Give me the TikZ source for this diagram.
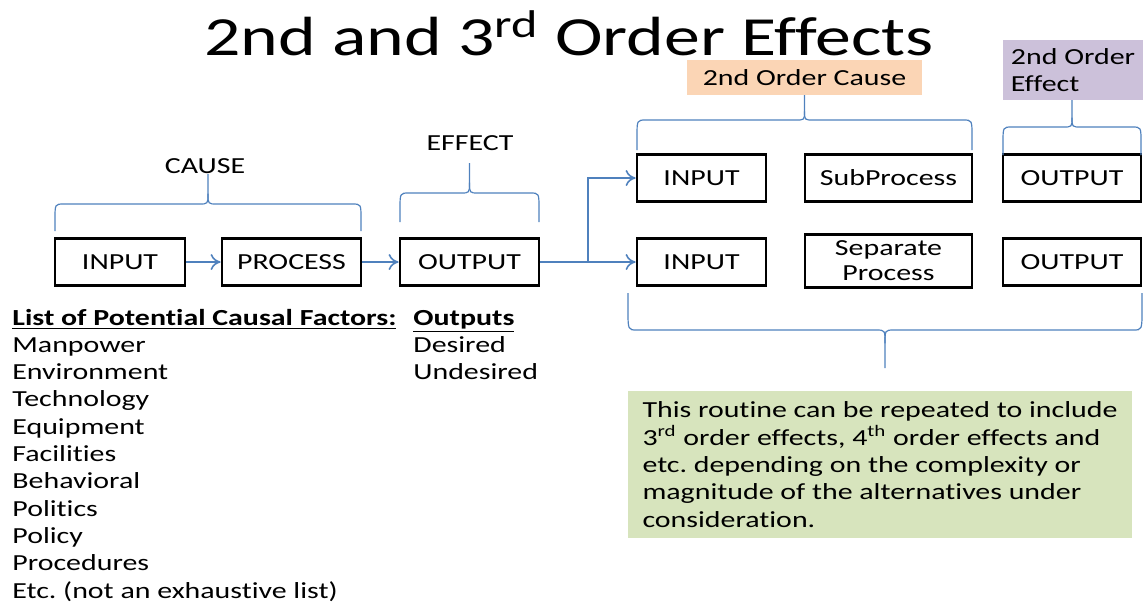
\documentclass[tikz,border=0pt]{standalone}
\usepackage{fontspec}
\setmainfont[FakeStretch=1.3, Ligatures=NoCommon]{Carlito}
\usepackage{xcolor}
\usepackage{tikz}
\usetikzlibrary{arrows.meta, calc}
\frenchspacing
\definecolor{lineblue}{RGB}{79,129,189}
\definecolor{causefill}{RGB}{251,213,181}
\definecolor{effectfill}{RGB}{204,193,218}
\definecolor{notefill}{RGB}{215,228,189}
\tikzset{
    block/.style={draw=black, line width=1.4pt, minimum height=23.5pt, inner sep=1pt, font=\fontsize{11.5}{13}\selectfont, align=center},
    flow/.style={draw=lineblue, line width=0.8pt, -{To[length=5pt, width=8pt]}},
    brc/.style={draw=lineblue, line width=0.6pt},
    lbl/.style={font=\fontsize{11.5}{13.7}\selectfont, inner sep=0pt},
    item/.style={lbl, anchor=base west},
    tag/.style={lbl, minimum height=17.5pt}
}
% brace: x1, x2, y of ends, y of bar, y of tip
\newcommand\ppbrace[5]{%
    \draw[brc] (#1,#3) -- (#1,{#3+0.45*(#4-#3)}) .. controls (#1,#4) .. ({#1+9},#4)
        -- ({(#1+#2)/2-9},#4) .. controls ({(#1+#2)/2},#4) .. ({(#1+#2)/2},{#4+0.35*(#5-#4)})
        -- ({(#1+#2)/2},#5);
    \draw[brc] (#2,#3) -- (#2,{#3+0.45*(#4-#3)}) .. controls (#2,#4) .. ({#2-9},#4)
        -- ({(#1+#2)/2+9},#4) .. controls ({(#1+#2)/2},#4) .. ({(#1+#2)/2},{#4+0.35*(#5-#4)});
}
\begin{document}
\begin{tikzpicture}[x=0.5pt, y=-0.5pt]
    \useasboundingbox (0,0) rectangle (1143,602);
    \node[font=\fontsize{27.6}{30}\selectfont] (title) at (569,33) {2nd and 3\textsuperscript{rd} Order Effects};

    % first order chain
    \node[block, minimum width=65pt] (in1) at (120,262) {INPUT};
    \node[block, minimum width=69.5pt] (proc) at (291.5,262) {PROCESS};
    \node[block, minimum width=69.5pt] (out1) at (469.5,262) {OUTPUT};
    % second order rows
    \node[block, minimum width=64.5pt] (in2) at (701.5,178) {INPUT};
    \node[block, minimum width=83.5pt] (sub) at (888.5,178) {SubProcess};
    \node[block, minimum width=69pt] (out2) at (1072,178) {OUTPUT};
    \node[block, minimum width=64.5pt] (in3) at (701.5,262) {INPUT};
    \node[block, minimum width=83.5pt, minimum height=26.5pt, font=\fontsize{11.5}{12.5}\selectfont] (sep) at (888.5,261) {Separate\\Process};
    \node[block, minimum width=69pt] (out3) at (1072,262) {OUTPUT};

    \coordinate (split) at (588,262);
    \draw[flow] (in1) -- (proc);
    \draw[flow] (proc) -- (out1);
    \draw[brc, line width=0.8pt] (out1.east) -- (split);
    \draw[flow] (split) |- (in2.west);
    \draw[flow] (split) -- (in3.west);

    % braces and their labels
    \ppbrace{55}{361}{231}{204}{174}
    \node[lbl] (cause) at (205,166) {CAUSE};
    \ppbrace{400}{539}{222}{193}{163}
    \node[lbl] (effect) at (470,143) {EFFECT};
    \ppbrace{637}{972}{150}{120}{95}
    \node[tag, fill=causefill, minimum width=117.5pt] (cause2) at (804.5,77.5) {2nd Order Cause};
    \ppbrace{1003}{1141}{155}{127}{100}
    \node[tag, fill=effectfill, minimum width=70pt, minimum height=30pt, align=left] (effect2) at (1073,70) {2nd Order\\Effect};
    \ppbrace{628}{1142}{293}{330}{368}
    \node[lbl, fill=notefill, minimum width=252pt, minimum height=73.5pt, align=left] (note) at (880,464.5)
        {This routine can be repeated to include\\3\textsuperscript{rd} order effects, 4\textsuperscript{th} order effects and\\etc. depending on the complexity or\\magnitude of the alternatives under\\consideration.};

    % lists
    \node[item] (fhead) at (12,325) {\textbf{\underline{List of Potential Causal Factors:}}};
    \foreach \t [count=\i] in {Manpower, Environment, Technology, Equipment, Facilities, Behavioral, Politics, Policy, Procedures, Etc. (not an exhaustive list)}
        \node[item] (f\i) at (12,{325+27.3*\i}) {\t};
    \node[item] (ohead) at (413,325) {\textbf{\underline{Outputs}}};
    \node[item] (o1) at (413,352) {Desired};
    \node[item] (o2) at (413,379) {Undesired};
\end{tikzpicture}
\end{document}
